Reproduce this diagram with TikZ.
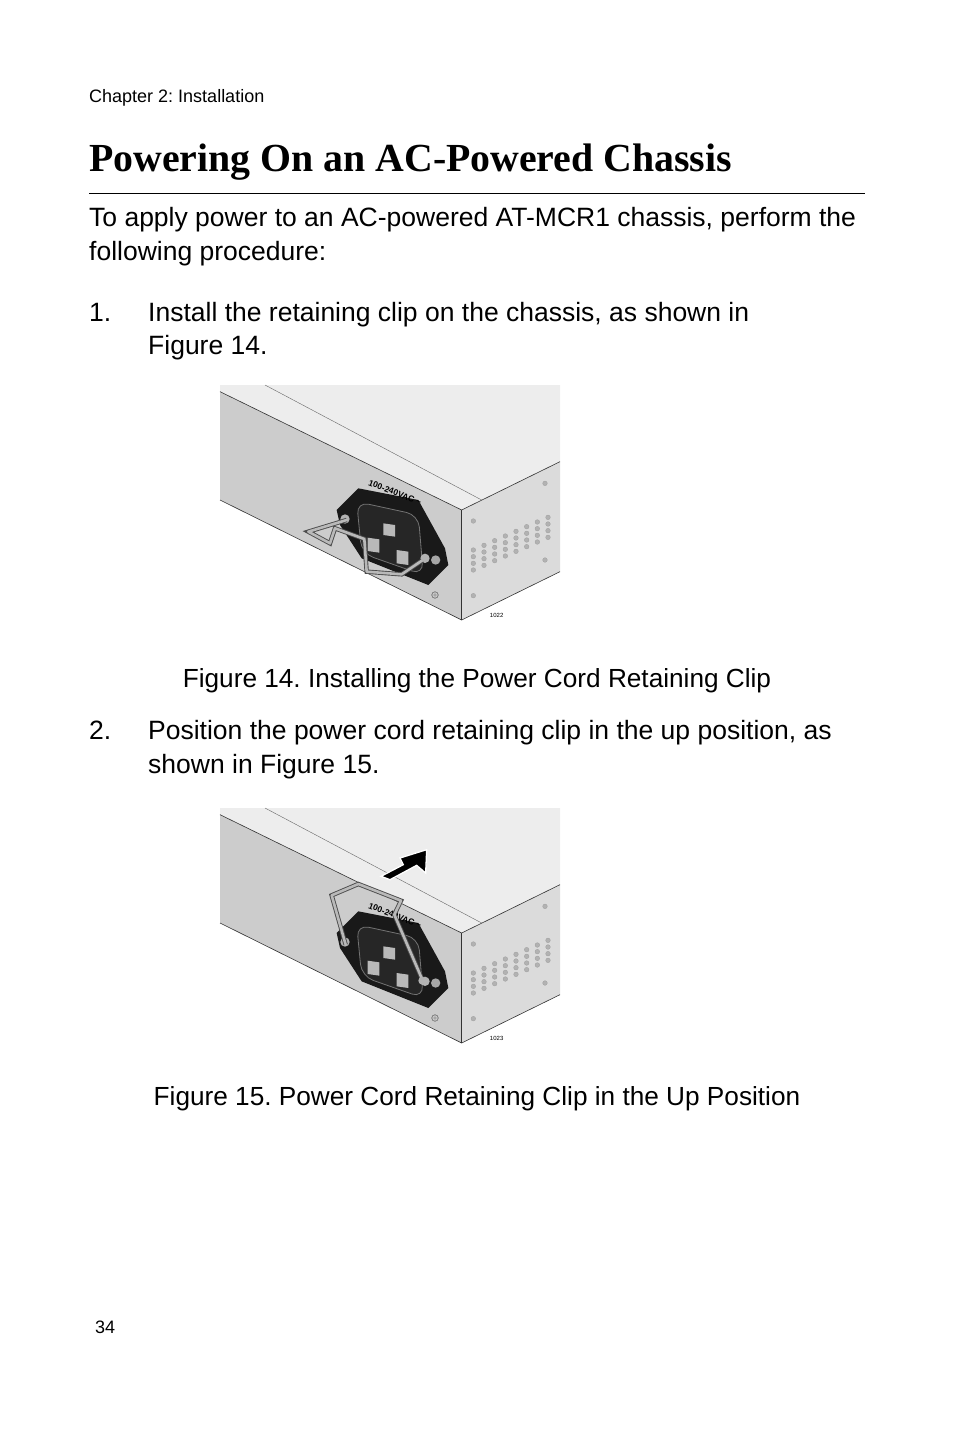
\documentclass[tikz,border=0pt]{standalone}
\usepackage{fontspec}
\setmainfont{Liberation Sans}
\newfontfamily\titlefont{Liberation Serif}
\usepackage{tikz}
\usetikzlibrary{positioning}
\frenchspacing
\definecolor{leftFace}{gray}{0.80}
\definecolor{rightFace}{gray}{0.86}
\definecolor{topFace}{gray}{0.93}
\tikzset{
  body/.style={anchor=base west, inner sep=0pt, font=\fontsize{26.5}{30}\selectfont},
  caption/.style={anchor=base, inner sep=0pt, font=\fontsize{26.2}{30}\selectfont},
  wire/.style={line width=2.6pt, gray!55, line join=round, line cap=round, preaction={draw, line width=4.4pt, black!70}},
  vent/.style={fill=gray!60, draw=gray!75, line width=0.3pt},
}
% chassis corner, drawn in zoom units (1/3 px)
\newcommand{\chassis}{%
  \fill[topFace] (15,20) -- (15,0) -- (1035,0) -- (1035,230) -- (740,375) -- cycle;
  \fill[leftFace] (15,20) -- (740,375) -- (740,705) -- (15,345) -- cycle;
  \fill[rightFace] (740,375) -- (1035,230) -- (1035,560) -- (740,705) -- cycle;
  \draw[black!80, line width=0.6pt] (15,20) -- (740,375) -- (1035,230);
  \draw[black!60, line width=0.4pt] (150,0) -- (800,345);
  \draw[black!80, line width=0.6pt] (15,345) -- (740,705) -- (1035,560);
  \draw[black!80, line width=0.6pt] (740,375) -- (740,705);
  % vents
  \foreach \r in {0,...,3}
    \foreach \c in {0,...,7}
      \fill[vent] (775+\c*32,495-\c*14+\r*20) circle (7);
  \foreach \p in {(775,408),(990,295),(775,632),(990,525)}
    \fill[vent] \p circle (7);
  % ground symbol
  \draw[black!70, line width=0.4pt] (660,630) circle (10) (652,630) -- (668,630) (660,622) -- (660,638);
  % power inlet
  \fill[black!90] (365,375) -- (430,310) -- (610,345) -- (690,490) -- (700,540)
    -- (640,600) -- (440,520) -- (375,420) -- cycle;
  \draw[black!55, line width=0.8pt, fill=black!85, rounded corners=12pt]
    (425,350) -- (610,390) -- (625,570) -- (440,505) -- cycle;
  \fill[gray!55] (505,415) -- (540,420) -- (540,455) -- (505,450) -- cycle;
  \fill[gray!55] (458,458) -- (493,463) -- (493,503) -- (458,498) -- cycle;
  \fill[gray!55] (545,495) -- (580,500) -- (580,540) -- (545,535) -- cycle;
  \fill[gray!60] (390,402) circle (14) (630,520) circle (14);
  \fill[gray!70] (662,525) circle (14);
  \node[rotate=-21, inner sep=0pt, font=\bfseries\fontsize{8.5}{9}\selectfont] (volts) at (540,322) {100-240VAC \textasciitilde};
}
\begin{document}
\begin{tikzpicture}[x=1pt, y=-1pt]
\useasboundingbox (0,0) rectangle (954,1431);
\node[anchor=base west, inner sep=0pt, font=\fontsize{18}{20}\selectfont] (chap) at (89,103) {Chapter 2: Installation};
\node[anchor=base west, inner sep=0pt, font=\titlefont\bfseries\fontsize{39.8}{42}\selectfont] (title) at (89,172) {Powering On an AC-Powered Chassis};
\draw[line width=0.8pt] (89,193) -- (865,193);
\node[body] (intro1) at (89,227) {To apply power to an AC-powered AT-MCR1 chassis, perform the};
\node[body] (intro2) at (89,260) {following procedure:};
\node[body] (num1) at (89,321) {1.};
\node[body] (step1a) at (148,321) {Install the retaining clip on the chassis, as shown in};
\node[body] (step1b) at (148,354) {Figure 14.};
% figure 14
\begin{scope}[shift={(215,385)}, scale=1/3]
  \chassis
  \draw[wire] (395,405) -- (280,440) -- (345,475) -- (360,430) -- (448,462)
    -- (455,560) -- (560,568) -- (628,522);
  \fill[gray!60] (630,520) circle (12);
  \node[font=\fontsize{6}{6}\selectfont] (num1022) at (845,690) {1022};
\end{scope}
\node[caption] (cap14) at (477,687) {Figure 14. Installing the Power Cord Retaining Clip};
\node[body] (num2) at (89,739) {2.};
\node[body] (step2a) at (148,739) {Position the power cord retaining clip in the up position, as};
\node[body] (step2b) at (148,773) {shown in Figure 15.};
% figure 15
\begin{scope}[shift={(215,808)}, scale=1/3]
  \chassis
  \draw[wire] (392,410) -- (350,262) -- (430,228) -- (558,278) -- (538,320) -- (622,515);
  \fill[gray!60] (622,518) circle (12);
  \fill[black, draw=white, line width=1.3pt] (498,205) -- (565,170) -- (555,150) -- (635,125)
    -- (632,195) -- (605,172) -- (525,215) -- cycle;
  \node[font=\fontsize{6}{6}\selectfont] (num1023) at (845,690) {1023};
\end{scope}
\node[caption] (cap15) at (477,1105) {Figure 15. Power Cord Retaining Clip in the Up Position};
\node[anchor=base west, inner sep=0pt, font=\fontsize{18}{20}\selectfont] (page) at (95,1333) {34};
\end{tikzpicture}
\end{document}
